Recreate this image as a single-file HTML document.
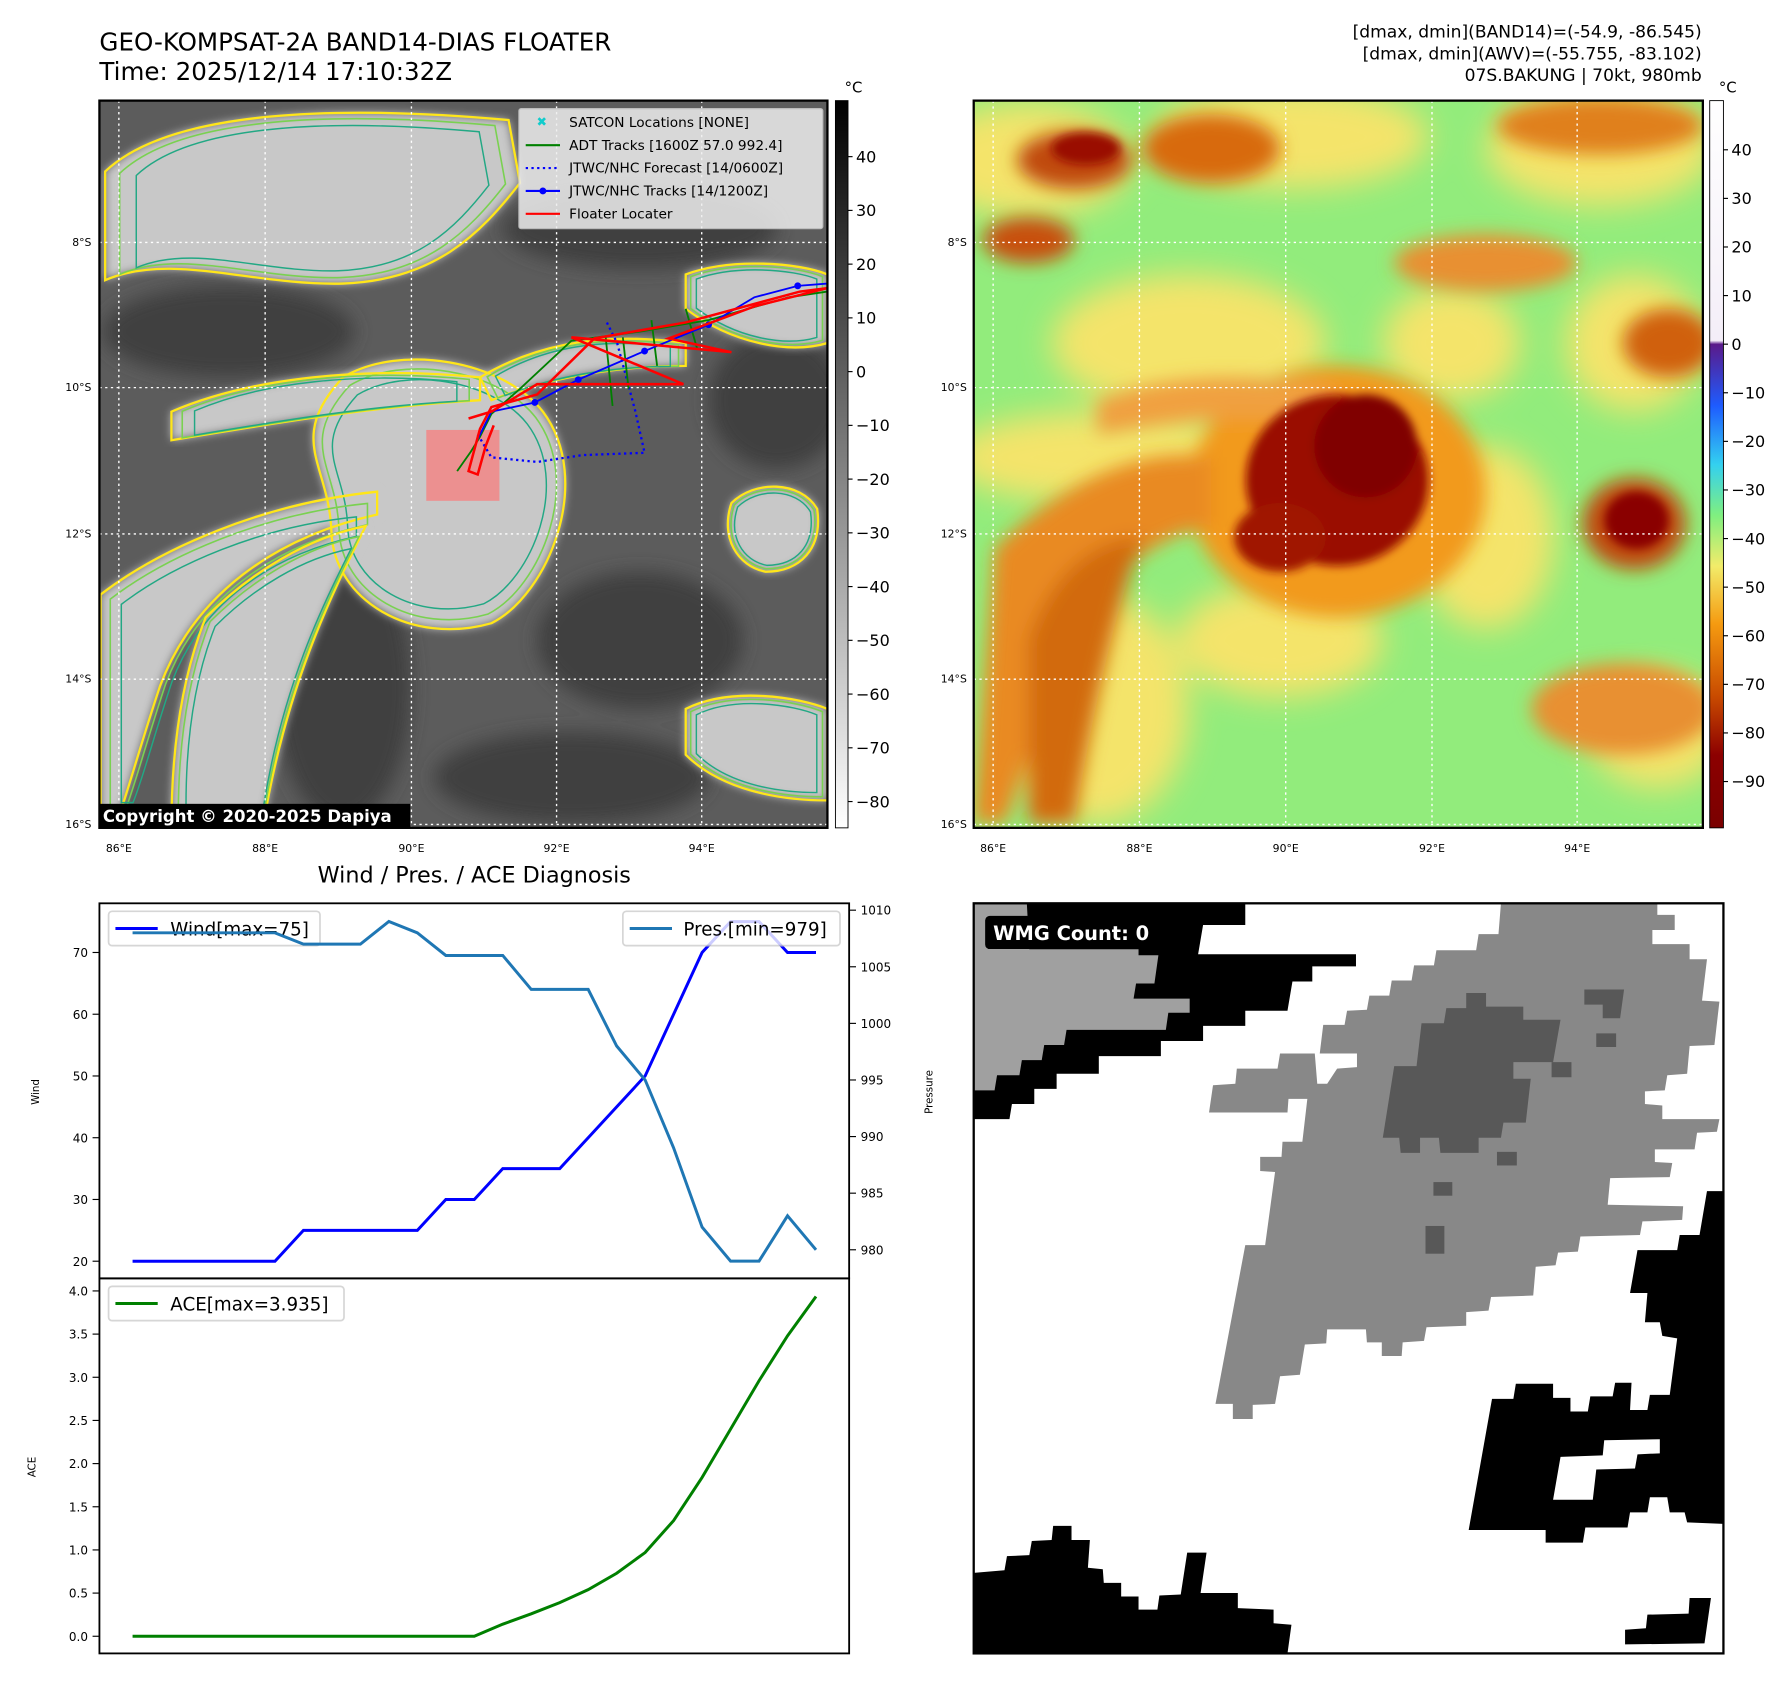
<!DOCTYPE html>
<html><head><meta charset="utf-8"><style>
html,body{margin:0;padding:0;background:#fff;}
svg{display:block;font-family:"DejaVu Sans","Liberation Sans",sans-serif;}
</style></head><body>
<svg id="fig" width="1792" height="1690" viewBox="0 0 1568 1478" preserveAspectRatio="none" xmlns="http://www.w3.org/2000/svg">
<defs>
<filter id="blur3"><feGaussianBlur stdDeviation="3"/></filter>
<filter id="blur4"><feGaussianBlur stdDeviation="4"/></filter>
<filter id="blur8"><feGaussianBlur stdDeviation="8"/></filter>
<filter id="blur14"><feGaussianBlur stdDeviation="14"/></filter>
<clipPath id="clipL"><rect x="87" y="88" width="637" height="636"/></clipPath>
<clipPath id="clipR"><rect x="852" y="88" width="638" height="636"/></clipPath>
<linearGradient id="cbGray" x1="0" y1="0" x2="0" y2="1"><stop offset="0" stop-color="#000"/><stop offset="1" stop-color="#fff"/></linearGradient>
<linearGradient id="cbHot" x1="0" y1="0" x2="0" y2="1">
<stop offset="0" stop-color="#fff"/><stop offset="0.33" stop-color="#f4eef8"/><stop offset="0.335" stop-color="#5a1a8a"/>
<stop offset="0.42" stop-color="#1e5cff"/><stop offset="0.5" stop-color="#33d0f0"/><stop offset="0.57" stop-color="#7fef80"/>
<stop offset="0.64" stop-color="#f2ec6a"/><stop offset="0.72" stop-color="#f59a10"/><stop offset="0.82" stop-color="#c84a00"/>
<stop offset="0.9" stop-color="#8c0000"/><stop offset="1" stop-color="#7a0000"/></linearGradient>
</defs>

<text x="87" y="44" font-size="21.5">GEO-KOMPSAT-2A BAND14-DIAS FLOATER</text>
<text x="87" y="70" font-size="21.5">Time: 2025/12/14 17:10:32Z</text>
<g font-size="15" text-anchor="end">
<text x="1489" y="33">[dmax, dmin](BAND14)=(-54.9, -86.545)</text>
<text x="1489" y="52">[dmax, dmin](AWV)=(-55.755, -83.102)</text>
<text x="1489" y="71">07S.BAKUNG | 70kt, 980mb</text>
</g>

<!-- LEFT MAP -->
<g clip-path="url(#clipL)">
<rect x="87" y="88" width="637" height="636" fill="#5c5c5c"/>
<g filter="url(#blur8)" fill="#3f3f3f">
<ellipse cx="200" cy="290" rx="110" ry="40"/><ellipse cx="560" cy="200" rx="120" ry="35"/>
<ellipse cx="560" cy="560" rx="90" ry="60"/><ellipse cx="300" cy="600" rx="60" ry="120"/>
<ellipse cx="500" cy="680" rx="120" ry="40"/><ellipse cx="680" cy="350" rx="60" ry="60"/>
</g>
<g id="clouds"></g>
<g stroke="#fff" stroke-width="1.2" stroke-dasharray="2,3">
<line x1="104" y1="88" x2="104" y2="724"/><line x1="232" y1="88" x2="232" y2="724"/><line x1="360" y1="88" x2="360" y2="724"/><line x1="487" y1="88" x2="487" y2="724"/><line x1="614" y1="88" x2="614" y2="724"/>
<line x1="87" y1="212" x2="724" y2="212"/><line x1="87" y1="339" x2="724" y2="339"/><line x1="87" y1="467" x2="724" y2="467"/><line x1="87" y1="594" x2="724" y2="594"/><line x1="87" y1="721" x2="724" y2="721"/>
</g>
<rect x="373" y="376" width="64" height="62" fill="#f08a8a" opacity="0.9"/>
<polyline points="418,380 430,400 470,404 510,398 564,396 556,360 540,300 530,280" fill="none" stroke="#0000ff" stroke-width="2" stroke-dasharray="2,3"/>
<polyline points="400,412 412,395 420,382 430,362 455,340 500,298 560,290 620,280 690,260 724,255" fill="none" stroke="#008000" stroke-width="1.6"/>
<g stroke="#008000" stroke-width="1.6"><line x1="530" y1="295" x2="536" y2="355"/><line x1="545" y1="295" x2="550" y2="340"/><line x1="570" y1="280" x2="575" y2="320"/><line x1="600" y1="270" x2="610" y2="305"/></g>
<polyline points="418,384 430,360 468,352 506,332 564,307 620,284 660,260 698,250 724,248" fill="none" stroke="#0000ff" stroke-width="1.6"/>
<g fill="#0000ff"><circle cx="468" cy="352" r="3"/><circle cx="506" cy="332" r="3"/><circle cx="564" cy="307" r="3"/><circle cx="620" cy="284" r="3"/><circle cx="698" cy="250" r="3"/></g>
<polyline points="410,366 430,360 470,336 598,336 500,295 640,308 585,296 660,268 724,252 700,255 600,282 520,296 470,345 430,356 420,375 410,412 418,415 425,390 432,372" fill="none" stroke="#ff0000" stroke-width="2.2"/>
</g>
<rect x="87" y="88" width="637" height="636" fill="none" stroke="#000" stroke-width="2"/>
<g font-size="12">
<rect x="454" y="95" width="266" height="105" fill="#eee" opacity="0.85" stroke="#ccc" rx="2"/>
<text x="474" y="110" fill="#1cc" font-size="11" text-anchor="middle" font-weight="bold">✖</text><text x="498" y="111">SATCON Locations [NONE]</text>
<line x1="460" y1="127" x2="490" y2="127" stroke="#008000" stroke-width="1.8"/><text x="498" y="131">ADT Tracks [1600Z 57.0 992.4]</text>
<line x1="460" y1="147" x2="490" y2="147" stroke="#00f" stroke-width="1.8" stroke-dasharray="2,3"/><text x="498" y="151">JTWC/NHC Forecast [14/0600Z]</text>
<line x1="460" y1="167" x2="490" y2="167" stroke="#00f" stroke-width="1.8"/><circle cx="475" cy="167" r="3" fill="#00f"/><text x="498" y="171">JTWC/NHC Tracks [14/1200Z]</text>
<line x1="460" y1="187" x2="490" y2="187" stroke="#f00" stroke-width="1.8"/><text x="498" y="191">Floater Locater</text>
</g>
<g><rect x="87" y="703" width="272" height="21" fill="#000"/><text x="90" y="719" fill="#fff" font-size="14.5" font-weight="bold">Copyright © 2020-2025 Dapiya</text></g>
<g font-size="9.5" text-anchor="middle">
<text x="104" y="745">86°E</text><text x="232" y="745">88°E</text><text x="360" y="745">90°E</text><text x="487" y="745">92°E</text><text x="614" y="745">94°E</text>
<g text-anchor="end"><text x="80" y="215">8°S</text><text x="80" y="342">10°S</text><text x="80" y="470">12°S</text><text x="80" y="597">14°S</text><text x="80" y="724">16°S</text></g>
</g>
<rect x="731" y="88" width="11" height="636" fill="url(#cbGray)" stroke="#000" stroke-width="0.8"/>
<text x="739" y="81" font-size="13">°C</text>
<g id="cb1" font-size="14"></g>

<!-- RIGHT MAP -->
<g clip-path="url(#clipR)">
<rect x="852" y="88" width="638" height="636" fill="#92ec7c"/>
<g filter="url(#blur14)" fill="#f4e46a">
<ellipse cx="900" cy="140" rx="90" ry="50"/><ellipse cx="1130" cy="120" rx="120" ry="45"/><ellipse cx="1400" cy="130" rx="100" ry="50"/>
<ellipse cx="1040" cy="300" rx="120" ry="60"/><ellipse cx="960" cy="400" rx="130" ry="40"/><ellipse cx="1270" cy="300" rx="60" ry="50"/>
<ellipse cx="1120" cy="560" rx="90" ry="50"/><ellipse cx="1300" cy="470" rx="60" ry="80"/><ellipse cx="1450" cy="640" rx="60" ry="50"/>
<ellipse cx="960" cy="620" rx="80" ry="100"/><ellipse cx="1430" cy="300" rx="60" ry="60"/>
</g>
<g filter="url(#blur8)">
<ellipse cx="1170" cy="430" rx="130" ry="110" fill="#f29a1e"/>
<path d="M870,480 C930,420 1000,390 1060,400 L1060,460 C1000,470 950,520 920,600 L880,720 L852,720 Z" fill="#e98a20"/>
<path d="M900,560 C920,500 960,470 1000,470 C980,520 960,600 940,720 L900,720Z" fill="#d26a10"/>
<path d="M960,350 C1040,320 1120,330 1170,340 L1150,370 C1080,360 1020,370 960,380Z" fill="#f0a040"/>
<ellipse cx="940" cy="140" rx="50" ry="25" fill="#c04a08"/><ellipse cx="1060" cy="130" rx="60" ry="30" fill="#d86a10"/>
<ellipse cx="1400" cy="110" rx="90" ry="25" fill="#e0801a"/><ellipse cx="1460" cy="300" rx="40" ry="30" fill="#d06010"/>
<ellipse cx="1300" cy="230" rx="80" ry="25" fill="#e89030"/><ellipse cx="1420" cy="620" rx="80" ry="40" fill="#e89030"/>
<ellipse cx="1430" cy="458" rx="45" ry="40" fill="#c04a08"/><ellipse cx="900" cy="210" rx="40" ry="20" fill="#c85010"/>
</g>
<g filter="url(#blur4)">
<ellipse cx="1170" cy="420" rx="80" ry="75" fill="#9a0c00"/><ellipse cx="1195" cy="390" rx="45" ry="45" fill="#800000"/>
<ellipse cx="1120" cy="470" rx="40" ry="30" fill="#a01800"/>
<ellipse cx="1432" cy="455" rx="28" ry="25" fill="#8a0000"/><ellipse cx="950" cy="130" rx="30" ry="14" fill="#9a1000"/>
</g>
<g stroke="#fff" stroke-width="1.2" stroke-dasharray="2,3">
<line x1="869" y1="88" x2="869" y2="724"/><line x1="997" y1="88" x2="997" y2="724"/><line x1="1125" y1="88" x2="1125" y2="724"/><line x1="1253" y1="88" x2="1253" y2="724"/><line x1="1380" y1="88" x2="1380" y2="724"/>
<line x1="852" y1="212" x2="1490" y2="212"/><line x1="852" y1="339" x2="1490" y2="339"/><line x1="852" y1="467" x2="1490" y2="467"/><line x1="852" y1="594" x2="1490" y2="594"/><line x1="852" y1="721" x2="1490" y2="721"/>
</g>
</g>
<rect x="852" y="88" width="638" height="636" fill="none" stroke="#000" stroke-width="2"/>
<g font-size="9.5" text-anchor="middle">
<text x="869" y="745">86°E</text><text x="997" y="745">88°E</text><text x="1125" y="745">90°E</text><text x="1253" y="745">92°E</text><text x="1380" y="745">94°E</text>
<g text-anchor="end"><text x="846" y="215">8°S</text><text x="846" y="342">10°S</text><text x="846" y="470">12°S</text><text x="846" y="597">14°S</text><text x="846" y="724">16°S</text></g>
</g>
<rect x="1496" y="88" width="12" height="636" fill="url(#cbHot)" stroke="#000" stroke-width="0.8"/>
<text x="1504" y="81" font-size="13">°C</text>
<g id="cb2" font-size="14"></g>

<text x="415" y="772" font-size="19.5" text-anchor="middle">Wind / Pres. / ACE Diagnosis</text>
<g id="charts"></g>

<!-- WMG -->
<g>
<rect x="852" y="790" width="656" height="656" fill="#fff"/>
<g transform="translate(852,790) scale(0.4344,0.4409) translate(-8,-27)">
<polygon fill="#000" points="8,27 555,27 555,70 470,70 460,128 778,128 778,152 690,152 690,182 650,182 640,240 555,240 555,270 470,270 470,300 385,300 385,330 260,330 260,365 175,365 175,395 130,395 130,425 85,425 80,455 8,455"/>
<polygon fill="#a0a0a0" points="8,27 8,398 50,398 55,368 100,368 105,338 145,338 150,308 190,308 195,278 395,278 400,244 443,244 443,216 330,216 335,186 372,186 380,130 340,130 340,118 120,118 115,27"/>
<polygon fill="#888" points="1070,27 1385,27 1385,50 1420,50 1420,80 1375,80 1375,108 1450,108 1450,138 1485,138 1475,220 1510,222 1500,308 1450,310 1445,365 1405,368 1400,398 1360,400 1360,425 1395,428 1395,455 1510,455 1505,480 1465,482 1460,515 1380,515 1380,540 1415,542 1410,570 1290,572 1285,625 1437,628 1435,655 1355,658 1350,685 1230,688 1225,718 1185,720 1180,745 1140,748 1135,805 1050,808 1045,835 1000,838 1000,865 920,868 915,895 872,898 870,925 830,925 830,898 800,898 798,872 720,872 718,900 675,902 665,962 625,965 615,1020 570,1022 570,1050 530,1050 530,1020 495,1020 555,705 595,705 615,560 585,558 585,530 628,530 630,500 670,500 680,415 642,415 640,442 482,442 490,388 535,385 538,355 620,355 625,325 695,325 700,385 720,385 740,355 780,352 780,325 705,325 712,268 755,268 760,240 800,238 805,210 845,210 850,180 890,180 895,150 935,150 940,120 1020,120 1025,88 1065,88"/>
<g fill="#585858">
<polygon points="1000,205 1040,205 1040,232 1115,232 1115,258 1190,258 1175,342 1095,342 1095,375 1130,375 1120,462 1075,462 1070,492 1025,492 1025,522 948,522 945,492 907,492 907,522 868,522 865,492 832,492 855,350 900,350 910,265 955,265 960,235 1000,235"/>
<polygon points="1238,198 1318,198 1310,255 1275,255 1275,228 1238,228"/>
<rect x="1262" y="285" width="40" height="27"/><rect x="1172" y="342" width="40" height="30"/>
<rect x="1062" y="520" width="40" height="27"/><rect x="934" y="580" width="38" height="27"/><rect x="918" y="667" width="38" height="55"/>
</g>
<polygon fill="#000" points="1485,598 1518,598 1518,1258 1445,1255 1440,1235 1410,1235 1405,1205 1370,1205 1365,1235 1330,1235 1325,1265 1240,1265 1235,1295 1160,1295 1160,1270 1005,1270 1052,1010 1095,1010 1100,980 1175,980 1175,1008 1210,1008 1210,1035 1245,1035 1250,1005 1295,1005 1300,978 1333,978 1330,1032 1365,1032 1370,1002 1410,1002 1425,890 1395,885 1390,858 1360,858 1365,800 1330,800 1345,715 1425,715 1430,685 1470,685"/>
<polygon fill="#fff" points="1190,1125 1275,1122 1278,1092 1390,1090 1390,1118 1345,1120 1340,1148 1262,1150 1255,1210 1175,1210"/>
<polygon fill="#000" points="8,1355 70,1350 75,1322 120,1320 125,1292 165,1290 168,1262 205,1262 205,1290 242,1290 238,1345 268,1348 270,1375 305,1375 305,1402 340,1402 340,1428 378,1428 382,1400 425,1398 438,1315 477,1315 465,1395 540,1395 540,1425 612,1428 612,1455 648,1458 640,1515 8,1515"/>
<polygon fill="#000" points="1450,1405 1493,1405 1480,1495 1320,1497 1320,1468 1362,1465 1365,1438 1448,1436"/>
</g>
<rect x="852" y="790" width="656" height="656" fill="none" stroke="#000" stroke-width="2"/>
<g><rect x="862" y="801" width="156" height="29" rx="4" fill="#000"/><text x="869" y="822" fill="#fff" font-size="17" font-weight="bold">WMG Count: 0</text></g>
</g>
</svg>
<script>
const windVals=[20,20,20,20,20,20,25,25,25,25,25,30,30,35,35,35,40,45,50,60,70,75,75,70,70];
const presVals=[1008,1008,1008,1008,1008,1008,1007,1007,1007,1009,1008,1006,1006,1006,1003,1003,1003,998,995,989,982,979,979,983,980];
const aceVals=[0,0,0,0,0,0,0,0,0,0,0,0,0,0.14,0.26,0.39,0.54,0.73,0.97,1.34,1.84,2.40,2.96,3.48,3.935];
const windTicks=[20,30,40,50,60,70];
const presTicks=[980,985,990,995,1000,1005,1010];
const aceTicks=[0,0.5,1.0,1.5,2.0,2.5,3.0,3.5,4.0];
const cb1Ticks=[40,30,20,10,0,-10,-20,-30,-40,-50,-60,-70,-80];
const cb2Ticks=[40,30,20,10,0,-10,-20,-30,-40,-50,-60,-70,-80,-90];

const NS='http://www.w3.org/2000/svg';
function mk(tag,attrs,parent,txt){const e=document.createElementNS(NS,tag);for(const k in attrs)e.setAttribute(k,attrs[k]);if(txt!==undefined)e.textContent=txt;parent.appendChild(e);return e;}
const xS=i=>116+i*(714-116)/(windVals.length-1);
const yW=v=>1103+(v-20)*(833-1103)/50;
const yP=v=>1093+(v-980)*(796-1093)/30;
const yA=v=>1431+v*(1129-1431)/4;
const fmtM=v=>(v<0?'\u2212'+(-v):''+v);

const cb1=document.getElementById('cb1');
cb1Ticks.forEach(t=>{const y=325-t*4.7;mk('line',{x1:742,y1:y,x2:746,y2:y,stroke:'#000'},cb1);
 const tx=mk('text',{x:749,y:y+5},cb1,fmtM(t));
 
 });
const cb2=document.getElementById('cb2');
cb2Ticks.forEach(t=>{const y=301-t*4.25;mk('line',{x1:1508,y1:y,x2:1512,y2:y,stroke:'#000'},cb2);
 const tx=mk('text',{x:1515,y:y+5},cb2,fmtM(t));
 
 });

const clouds=document.getElementById('clouds');
const cloudPaths=[
"M92,150 C150,95 300,92 445,105 L455,160 C420,205 380,245 300,248 C220,250 150,220 92,245 Z",
"M300,330 C350,300 440,315 475,360 C520,420 480,520 430,545 C360,565 292,525 290,465 C288,405 250,385 300,330Z",
"M150,360 C220,330 320,320 420,330 L420,350 C330,355 240,370 150,385 Z",
"M88,520 C140,480 230,440 330,430 L330,450 C240,470 170,520 140,600 C120,660 110,700 100,724 L88,724Z",
"M180,540 C220,500 270,470 320,460 C290,520 250,600 230,724 L150,724 C150,650 160,590 180,540Z",
"M600,620 C640,600 700,610 724,620 L724,700 C680,700 630,690 600,660Z",
"M640,440 C660,420 700,420 715,445 C720,480 700,500 670,500 C645,495 630,470 640,440Z",
"M600,240 C640,225 700,230 724,240 L724,300 C690,310 640,300 600,270Z",
"M420,330 C470,300 530,290 600,300 L600,320 C540,320 480,330 430,350Z"];
cloudPaths.forEach(d=>{
 const p=mk('path',{d:d,fill:'#c8c8c8',filter:'url(#blur4)'},clouds);
 
 
});
cloudPaths.forEach(d=>{
 mk('path',{d:d,fill:'none',stroke:'#ffe619','stroke-width':2},clouds);
 const g=mk('g',{},clouds);const q=mk('path',{d:d,fill:'none',stroke:'#7ad151','stroke-width':1.5},g);
 const b=q.getBBox();const cx=b.x+b.width/2,cy=b.y+b.height/2;
 g.setAttribute('transform',`translate(${cx},${cy}) scale(0.93) translate(${-cx},${-cy})`);
 const g2=mk('g',{},clouds);mk('path',{d:d,fill:'none',stroke:'#22a884','stroke-width':1.5},g2);
 g2.setAttribute('transform',`translate(${cx},${cy}) scale(0.85) translate(${-cx},${-cy})`);
});

const ch=document.getElementById('charts');
mk('rect',{x:87,y:790,width:656,height:328,fill:'none',stroke:'#000','stroke-width':1.6},ch);
mk('rect',{x:87,y:1118,width:656,height:328,fill:'none',stroke:'#000','stroke-width':1.6},ch);
windTicks.forEach(t=>{const y=yW(t);mk('line',{x1:81,y1:y,x2:87,y2:y,stroke:'#000'},ch);
 const tx=mk('text',{x:77,y:y+4,'font-size':10.5,'text-anchor':'end'},ch,t);
 
 });
presTicks.forEach(t=>{const y=yP(t);mk('line',{x1:743,y1:y,x2:749,y2:y,stroke:'#000'},ch);
 const tx=mk('text',{x:753,y:y+4,'font-size':10.5},ch,t);
 
 });
aceTicks.forEach(t=>{const y=yA(t);mk('line',{x1:81,y1:y,x2:87,y2:y,stroke:'#000'},ch);
 const tx=mk('text',{x:77,y:y+4,'font-size':10.5,'text-anchor':'end'},ch,t.toFixed(1));
 
 });
const yl1=mk('text',{x:34,y:955,'font-size':9,'text-anchor':'middle',transform:'rotate(-90 34 955)'},ch,'Wind');


const yl2=mk('text',{x:816,y:955,'font-size':9,'text-anchor':'middle',transform:'rotate(-90 816 955)'},ch,'Pressure');


const yl3=mk('text',{x:31,y:1283,'font-size':9,'text-anchor':'middle',transform:'rotate(-90 31 1283)'},ch,'ACE');



const wl=mk('polyline',{points:windVals.map((v,i)=>xS(i)+','+yW(v)).join(' '),fill:'none',stroke:'#0000ff','stroke-width':2.6},ch);


const lg1=mk('g',{},ch);


mk('rect',{x:95,y:797,width:185,height:30,rx:3,fill:'#fff',opacity:0.8,stroke:'#ccc','stroke-width':1.5},lg1);
mk('line',{x1:101,y1:812,x2:138,y2:812,stroke:'#0000ff','stroke-width':2.6},lg1);
mk('text',{x:149,y:818,'font-size':16},lg1,'Wind[max=75]');
const pl=mk('polyline',{points:presVals.map((v,i)=>xS(i)+','+yP(v)).join(' '),fill:'none',stroke:'#1f77b4','stroke-width':2.6},ch);


const lg2=mk('g',{},ch);


mk('rect',{x:545,y:797,width:190,height:30,rx:3,fill:'#fff',opacity:0.8,stroke:'#ccc','stroke-width':1.5},lg2);
mk('line',{x1:551,y1:812,x2:588,y2:812,stroke:'#1f77b4','stroke-width':2.6},lg2);
mk('text',{x:598,y:818,'font-size':16},lg2,'Pres.[min=979]');
const al=mk('polyline',{points:aceVals.map((v,i)=>xS(i)+','+yA(v)).join(' '),fill:'none',stroke:'#008000','stroke-width':2.6},ch);


const lg3=mk('g',{},ch);


mk('rect',{x:95,y:1125,width:206,height:30,rx:3,fill:'#fff',opacity:0.8,stroke:'#ccc','stroke-width':1.5},lg3);
mk('line',{x1:101,y1:1140,x2:138,y2:1140,stroke:'#008000','stroke-width':2.6},lg3);
mk('text',{x:149,y:1146,'font-size':16},lg3,'ACE[max=3.935]');
</script>
</body></html>
